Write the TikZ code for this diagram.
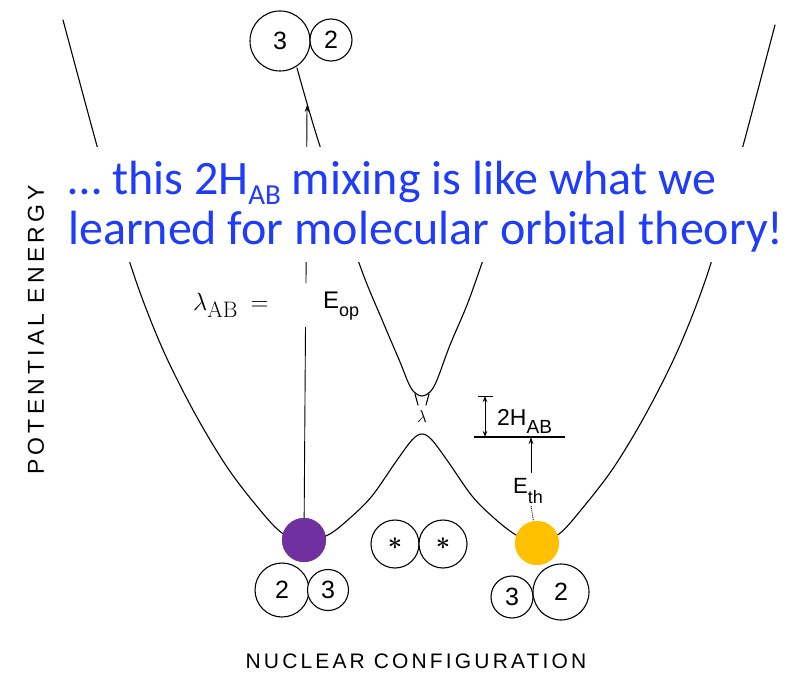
\documentclass[tikz,border=0pt]{standalone}
\usepackage{amsmath}
\usepackage{fontspec}
\usetikzlibrary{arrows.meta}
\newfontfamily\labfont{Liberation Sans}
\newfontfamily\xaxisfont[LetterSpace=15]{Liberation Sans}
\newfontfamily\yaxisfont[LetterSpace=18]{Liberation Sans}
\newfontfamily\bluefont{Carlito}
\definecolor{msgblue}{RGB}{30,60,250}
\definecolor{dotpurple}{RGB}{112,48,160}
\definecolor{dotyellow}{RGB}{255,192,0}
\newcommand{\digitfont}{\labfont\fontsize{25}{25}\selectfont}
\newcommand{\starfont}{\fontsize{36}{36}\selectfont}
\begin{document}
\begin{tikzpicture}[x=1pt,y=-1pt,
  curve/.style={line width=1.1pt, line join=round, line cap=round},
  ball/.style={circle, draw, fill=white, line width=1.1pt, inner sep=0pt},
  dot/.style={circle, inner sep=0pt, minimum size=44pt},
  thinline/.style={line width=0.9pt},
  tip/.style={-{Stealth[length=7pt,width=4.5pt]}},
  twotip/.style={{Stealth[length=6pt,width=4.5pt]}-{Stealth[length=6pt,width=4.5pt]}}]
\useasboundingbox (0,0) rectangle (787,674);

% lower adiabatic curve
\draw[curve] plot[smooth, tension=0.55] coordinates {(63,20) (97,146) (130,263) (160,343) (193,410) (227,467) (260,510) (282,533) (304,541) (328,535) (350,518) (372,496) (395,463) (412,440) (422,434) (432,440) (449,463) (472,496) (494,518) (516,535) (537,543) (559,534) (581,510) (614,467) (648,410) (681,343) (711,263) (743,146) (775,25)};
% upper adiabatic curve
\draw[curve] plot[smooth, tension=0.55] coordinates {(297,68) (318,140) (359,263) (383,322) (400,362) (408,382) (414,392) (422,396) (430,392) (437,380) (450,345) (467,305) (482,263) (500,210)};
\draw[curve] (415,394) -- (418,405);
\draw[curve] (429,394) -- (426,405);

% coordinates
\coordinate (opA) at (305.5,327);
\coordinate (opB) at (306,283);
\coordinate (opTop) at (307,105);
\coordinate (thTop) at (531,437);
\coordinate (thBot) at (531,473);
\coordinate (thDot) at (531,506);
\coordinate (hTop) at (485,396);
\coordinate (hBot) at (485,437);
\coordinate (tickL) at (478,396);
\coordinate (tickR) at (493,396);
\coordinate (levL) at (474,437);
\coordinate (levR) at (565,437);

\node[dot, fill=dotpurple] (P) at (304,540) {};
\node[dot, fill=dotyellow] (Y) at (537,543) {};

% optical transition
\draw[thinline] (P) -- (opA);
\draw[thinline, tip] (opB) -- (opTop);

% thermal barrier and splitting
\draw[thinline, tip] (thBot) -- (thTop);
\draw[thinline, densely dotted] (thDot) -- (Y);
\draw[thinline, twotip] (hBot) -- (hTop);
\draw[thinline] (tickL) -- (tickR);
\draw[line width=1.1pt] (levL) -- (levR);

% mask band behind the message
\fill[white] (55,147) rectangle (787,262);

% redraw dots on top
\node[dot, fill=dotpurple] (P2) at (304,540) {};
\node[dot, fill=dotyellow] (Y2) at (537,543) {};

% configurations
\node[ball, minimum size=60pt] (t3) at (280,41) {\digitfont 3};
\node[ball, minimum size=42pt] (t2) at (331,40) {\digitfont 2};
\node[ball, minimum size=54pt] (l2) at (282,590) {\digitfont 2};
\node[ball, minimum size=41pt] (l3) at (328,590) {\digitfont 3};
\node[ball, minimum size=48pt] (m1) at (395,544) {\starfont$\boldsymbol{\ast}$};
\node[ball, minimum size=48pt] (m2) at (443,544) {\starfont$\boldsymbol{\ast}$};
\node[ball, minimum size=42pt] (r3) at (512,597) {\digitfont 3};
\node[ball, minimum size=56pt] (r2) at (561,592) {\digitfont 2};

% labels
\node[inner sep=0pt] (gapl) at (422,416) {\fontsize{18}{18}\selectfont$\lambda$};
\node[anchor=base west, inner sep=0pt] (lam) at (193,310) {\fontsize{32}{32}\selectfont$\lambda_{\mathrm{AB}}\mskip4mu=$};
\node[anchor=base west, inner sep=0pt] (eop) at (323,308) {\labfont\fontsize{24}{24}\selectfont E\raisebox{-8pt}{\fontsize{18}{18}\selectfont op}};
\node[anchor=base west, inner sep=0pt] (eth) at (513,493) {\labfont\fontsize{22}{22}\selectfont E\raisebox{-10pt}{\fontsize{18}{18}\selectfont th}};
\node[anchor=base west, inner sep=0pt] (hab) at (497,425) {\labfont\fontsize{23}{23}\selectfont 2H\raisebox{-8pt}{\fontsize{19}{19}\selectfont AB}};

\node[rotate=90, inner sep=0pt] (ylab) at (36,330) {\yaxisfont\fontsize{23}{23}\selectfont POTENTIAL ENERGY};
\node[inner sep=0pt] (xlab) at (416,661) {\xaxisfont\fontsize{21}{21}\selectfont NUCLEAR CONFIGURATION};

% message
\node[anchor=north west, inner sep=0pt, align=left, text=msgblue,
      font=\bluefont\fontsize{48}{50}\selectfont] (msg) at (68,161)
  {… this 2H\raisebox{-0.2em}{\fontsize{29}{29}\selectfont AB} mixing is like what we\\
   learned for molecular orbital theory!};
\end{tikzpicture}
\end{document}
